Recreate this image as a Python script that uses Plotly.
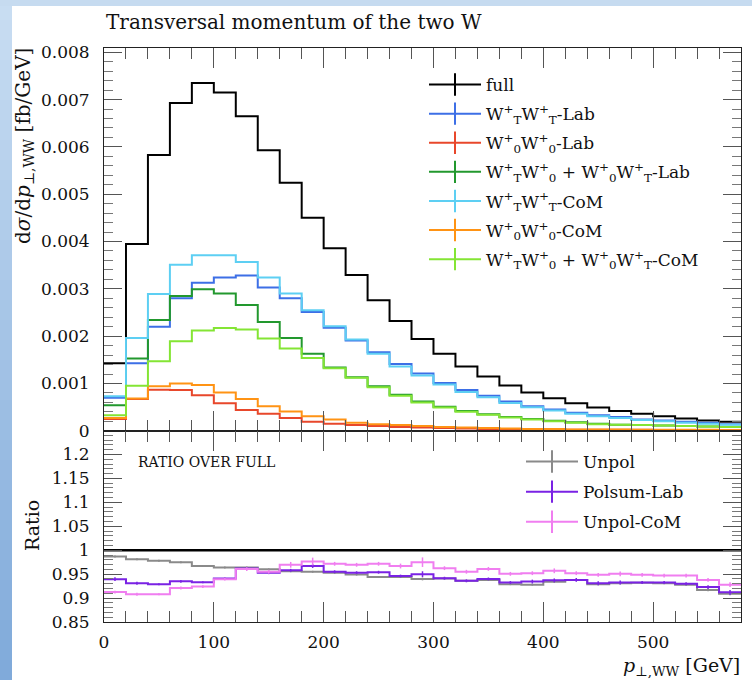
import plotly.graph_objects as go

# ---------------- data ----------------
bin_edges = [0, 20, 40, 60, 80, 100, 120, 140, 160, 180, 200, 220, 240, 260, 280,
             300, 320, 340, 360, 380, 400, 420, 440, 460, 480, 500, 520, 540, 560, 580]

full = [0.00143, 0.00395, 0.00583, 0.00693, 0.00735, 0.00715, 0.00665, 0.00593, 0.00524, 0.00450,
        0.00386, 0.00329, 0.00276, 0.00232, 0.00194, 0.00163, 0.00136, 0.00115, 0.00096, 0.00081,
        0.00069, 0.00058, 0.00049, 0.00042, 0.00036, 0.00031, 0.00026, 0.00022, 0.00019]
wtwt_lab = [0.00070, 0.00143, 0.00220, 0.00280, 0.00313, 0.00324, 0.00328, 0.00303, 0.00280, 0.00251,
            0.00218, 0.00191, 0.00166, 0.00141, 0.00121, 0.00101, 0.00086, 0.00074, 0.00062, 0.00052,
            0.00045, 0.00038, 0.00033, 0.00029, 0.00024, 0.00022, 0.00019, 0.00017, 0.00014]
w0w0_lab = [0.00025, 0.00067, 0.00087, 0.00086, 0.00075, 0.00058, 0.00044, 0.00036, 0.00027, 0.00019,
            0.00015, 0.00012, 0.00010, 0.00008, 0.00007, 0.00006, 0.00005, 0.00004, 0.00004, 0.00003,
            0.00003, 0.00002, 0.00002, 0.00002, 0.00002, 0.00001, 0.00001, 0.00001, 0.00001]
mix_lab = [0.00054, 0.00153, 0.00234, 0.00285, 0.00299, 0.00290, 0.00266, 0.00230, 0.00196, 0.00163,
           0.00134, 0.00113, 0.00094, 0.00076, 0.00062, 0.00051, 0.00042, 0.00035, 0.00029, 0.00025,
           0.00021, 0.00018, 0.00015, 0.00013, 0.00012, 0.00011, 0.00010, 0.00009, 0.00008]
wtwt_com = [0.00073, 0.00196, 0.00289, 0.00351, 0.00371, 0.00371, 0.00357, 0.00324, 0.00290, 0.00255,
            0.00221, 0.00193, 0.00163, 0.00136, 0.00117, 0.00098, 0.00082, 0.00071, 0.00059, 0.00050,
            0.00043, 0.00036, 0.00031, 0.00027, 0.00023, 0.00020, 0.00017, 0.00015, 0.00013]
w0w0_com = [0.00027, 0.00068, 0.00094, 0.00100, 0.00097, 0.00081, 0.00067, 0.00052, 0.00041, 0.00031,
            0.00024, 0.00017, 0.00014, 0.00012, 0.00010, 0.00008, 0.00007, 0.00006, 0.00005, 0.00004,
            0.00004, 0.00003, 0.00003, 0.00003, 0.00002, 0.00002, 0.00002, 0.00002, 0.00001]
mix_com = [0.00033, 0.00095, 0.00147, 0.00189, 0.00212, 0.00217, 0.00214, 0.00195, 0.00174, 0.00154,
           0.00132, 0.00112, 0.00092, 0.00074, 0.00060, 0.00049, 0.00040, 0.00034, 0.00028, 0.00024,
           0.00020, 0.00017, 0.00014, 0.00013, 0.00012, 0.00011, 0.00010, 0.00009, 0.00008]

ratio_full = [1.0, 1.0, 1.0, 1.0, 1.0, 1.0, 1.0, 1.0, 1.0, 1.0, 1.0, 1.0, 1.0, 1.0, 1.0,
              1.0, 1.0, 1.0, 1.0, 1.0, 1.0, 1.0, 1.0, 1.0, 1.0, 1.0, 1.0, 1.0, 1.0]
ratio_unpol = [0.987, 0.981, 0.978, 0.975, 0.967, 0.964, 0.964, 0.960, 0.956, 0.955,
               0.953, 0.949, 0.944, 0.944, 0.940, 0.941, 0.936, 0.938, 0.929, 0.928,
               0.934, 0.938, 0.929, 0.931, 0.932, 0.931, 0.928, 0.917, 0.909]
ratio_polsum = [0.9395, 0.931, 0.929, 0.935, 0.933, 0.941, 0.962, 0.953, 0.958, 0.967,
                0.955, 0.953, 0.954, 0.946, 0.950, 0.9415, 0.936, 0.940, 0.9325, 0.9345,
                0.937, 0.938, 0.931, 0.9325, 0.9325, 0.9325, 0.930, 0.923, 0.912]
ratio_com = [0.9125, 0.908, 0.908, 0.921, 0.924, 0.9395, 0.9605, 0.955, 0.9695, 0.9765,
             0.9716, 0.9695, 0.9716, 0.967, 0.975, 0.9625, 0.955, 0.961, 0.9506, 0.952,
             0.957, 0.952, 0.9485, 0.9506, 0.9485, 0.947, 0.947, 0.938, 0.928]
err_unpol = [0.002, 0.002, 0.002, 0.002, 0.002, 0.002, 0.002, 0.002, 0.002, 0.002,
             0.002, 0.002, 0.002, 0.002, 0.003, 0.002, 0.002, 0.002, 0.002, 0.002,
             0.002, 0.002, 0.002, 0.002, 0.002, 0.002, 0.002, 0.003, 0.003]
err_polsum = [0.004, 0.003, 0.002, 0.003, 0.002, 0.002, 0.003, 0.003, 0.003, 0.004,
              0.003, 0.003, 0.003, 0.003, 0.006, 0.003, 0.003, 0.003, 0.003, 0.004,
              0.004, 0.004, 0.004, 0.004, 0.003, 0.003, 0.003, 0.004, 0.005]
err_com = [0.003, 0.003, 0.002, 0.003, 0.003, 0.003, 0.004, 0.004, 0.006, 0.008,
           0.004, 0.004, 0.004, 0.005, 0.010, 0.004, 0.004, 0.004, 0.004, 0.004,
           0.005, 0.004, 0.004, 0.005, 0.004, 0.004, 0.004, 0.004, 0.005]

main_series = [
    ("full", full, "#000000"),
    ("W<sup>+</sup><sub>T</sub>W<sup>+</sup><sub>T</sub>-Lab", wtwt_lab, "#3d6fe6"),
    ("W<sup>+</sup><sub>0</sub>W<sup>+</sup><sub>0</sub>-Lab", w0w0_lab, "#e8472b"),
    ("W<sup>+</sup><sub>T</sub>W<sup>+</sup><sub>0</sub> + W<sup>+</sup><sub>0</sub>W<sup>+</sup><sub>T</sub>-Lab", mix_lab, "#22982e"),
    ("W<sup>+</sup><sub>T</sub>W<sup>+</sup><sub>T</sub>-CoM", wtwt_com, "#5dcff3"),
    ("W<sup>+</sup><sub>0</sub>W<sup>+</sup><sub>0</sub>-CoM", w0w0_com, "#ff9314"),
    ("W<sup>+</sup><sub>T</sub>W<sup>+</sup><sub>0</sub> + W<sup>+</sup><sub>0</sub>W<sup>+</sup><sub>T</sub>-CoM", mix_com, "#84e534"),
]
ratio_series = [
    ("Unpol", ratio_unpol, err_unpol, "#8a8a8a"),
    ("Polsum-Lab", ratio_polsum, err_polsum, "#7a22e4"),
    ("Unpol-CoM", ratio_com, err_com, "#f07ef0"),
]

# ---------------- figure ----------------
W, H = 752, 680
L, R, T, B = 104, 11, 48, 58
PW, PH = W - L - R, H - T - B
split = (622 - 430.8) / PH

def px_x(px):
    return (px - L) / PW

def px_y(py):
    return (H - B - py) / PH

FONT = "DejaVu Serif"
centers = [(a + b) / 2 for a, b in zip(bin_edges[:-1], bin_edges[1:])]

fig = go.Figure()

for i, (name, vals, col) in enumerate(main_series):
    fig.add_trace(go.Scatter(x=bin_edges, y=vals + [vals[-1]], mode="lines",
                             line=dict(color=col, width=2, shape="hv"),
                             showlegend=False, xaxis="x", yaxis="y", hoverinfo="skip"))
    fig.add_trace(go.Scatter(x=[None], y=[None], mode="lines+markers", name=name,
                             legendgroup="m%d" % i,
                             line=dict(color=col, width=2),
                             marker=dict(symbol="line-ns-open", size=16, color=col,
                                         line=dict(color=col, width=2)),
                             legend="legend", xaxis="x", yaxis="y"))

fig.add_trace(go.Scatter(x=bin_edges, y=ratio_full + [ratio_full[-1]], mode="lines",
                         line=dict(color="#000000", width=2.5, shape="hv"),
                         showlegend=False, xaxis="x2", yaxis="y2", hoverinfo="skip"))
for i, (name, vals, errs, col) in enumerate(ratio_series):
    fig.add_trace(go.Scatter(x=bin_edges, y=vals + [vals[-1]], mode="lines",
                             line=dict(color=col, width=2, shape="hv"),
                             showlegend=False, xaxis="x2", yaxis="y2", hoverinfo="skip"))
    fig.add_trace(go.Scatter(x=centers, y=vals, mode="markers",
                             marker=dict(size=1, color=col, opacity=0),
                             error_y=dict(type="data", array=errs, color=col, thickness=1.5, width=0),
                             showlegend=False, xaxis="x2", yaxis="y2", hoverinfo="skip"))
    fig.add_trace(go.Scatter(x=[None], y=[None], mode="lines+markers", name=name,
                             legendgroup="r%d" % i,
                             line=dict(color=col, width=2),
                             marker=dict(symbol="line-ns-open", size=16, color=col,
                                         line=dict(color=col, width=2)),
                             legend="legend2", xaxis="x2", yaxis="y2"))

axis_common = dict(showgrid=False, zeroline=False, showline=True, linecolor="#222222",
                   linewidth=1, mirror="allticks", ticks="inside", tickcolor="#555555",
                   tickwidth=1, tickfont=dict(family=FONT, size=17, color="#111111"))

fig.update_layout(
    width=W, height=H, autosize=False,
    margin=dict(l=L, r=R, t=T, b=B, pad=0),
    paper_bgcolor="white", plot_bgcolor="white",
    xaxis=dict(axis_common, domain=[0, 1], anchor="y", range=[0, 580], dtick=100, tick0=0,
               ticklen=20, showticklabels=False,
               minor=dict(ticks="inside", dtick=20, ticklen=11, tickcolor="#555555")),
    yaxis=dict(axis_common, domain=[split, 1], anchor="x", range=[0, 0.00809], dtick=0.001,
               tick0=0, ticklen=18, ticklabelstandoff=10,
               minor=dict(ticks="inside", dtick=0.0002, ticklen=9, tickcolor="#777777")),
    xaxis2=dict(axis_common, domain=[0, 1], anchor="y2", range=[0, 580], dtick=100, tick0=0,
                ticklen=20, ticklabelstandoff=5,
                minor=dict(ticks="inside", dtick=20, ticklen=11, tickcolor="#555555")),
    yaxis2=dict(axis_common, domain=[0, split], anchor="x2", range=[0.85, 1.2495], dtick=0.05,
                tick0=0.85, ticklen=18, ticklabelstandoff=10,
                minor=dict(ticks="inside", dtick=0.01, ticklen=9, tickcolor="#777777")),
    legend=dict(x=px_x(424), y=px_y(67), xanchor="left", yanchor="top",
                bgcolor="rgba(0,0,0,0)", font=dict(family=FONT, size=17, color="#111111"),
                itemwidth=52, tracegroupgap=4, traceorder="grouped"),
    legend2=dict(x=px_x(521), y=px_y(444), xanchor="left", yanchor="top",
                 bgcolor="rgba(0,0,0,0)", font=dict(family=FONT, size=17, color="#111111"),
                 itemwidth=52, tracegroupgap=5, traceorder="grouped"),
    showlegend=True,
)

# decorative border (slide background)
n_strips = 34
c_top = (200, 221, 242)
c_bot = (128, 170, 218)
shapes = []
for i in range(n_strips):
    t = i / (n_strips - 1)
    c = tuple(int(round(c_top[k] + (c_bot[k] - c_top[k]) * t)) for k in range(3))
    y0 = H * i / n_strips
    y1 = H * (i + 1) / n_strips + 1
    shapes.append(dict(type="rect", xref="paper", yref="paper", layer="below",
                       x0=px_x(0), x1=px_x(12), y0=px_y(y1), y1=px_y(y0),
                       fillcolor="rgb(%d,%d,%d)" % c, line=dict(width=0)))
shapes.append(dict(type="rect", xref="paper", yref="paper", layer="below",
                   x0=px_x(0), x1=px_x(W), y0=px_y(6), y1=px_y(0),
                   fillcolor="rgb(198,219,240)", line=dict(width=0)))
fig.update_layout(shapes=shapes)

ann = [
    dict(text="Transversal momentum of the two W", x=px_x(104), y=px_y(22),
         xanchor="left", yanchor="middle", font=dict(family=FONT, size=20, color="#111111")),
    dict(text="d<i>σ</i>/d<i>p</i><sub>⊥,WW</sub> [fb/GeV]", x=px_x(24), y=px_y(46),
         xanchor="center", yanchor="top", textangle=-90,
         font=dict(family=FONT, size=20, color="#111111")),
    dict(text="Ratio", x=px_x(32), y=px_y(526), xanchor="center", yanchor="middle",
         textangle=-90, font=dict(family=FONT, size=19, color="#111111")),
    dict(text="RATIO OVER FULL", x=px_x(136), y=px_y(462), xanchor="left", yanchor="middle",
         font=dict(family=FONT, size=14, color="#111111")),
    dict(text="<i>p</i><sub>⊥,WW</sub> [GeV]", x=px_x(742), y=px_y(666),
         xanchor="right", yanchor="middle", font=dict(family=FONT, size=19, color="#111111")),
]
for a in ann:
    a.update(xref="paper", yref="paper", showarrow=False)
fig.update_layout(annotations=ann)

fig.write_html("out.html")
